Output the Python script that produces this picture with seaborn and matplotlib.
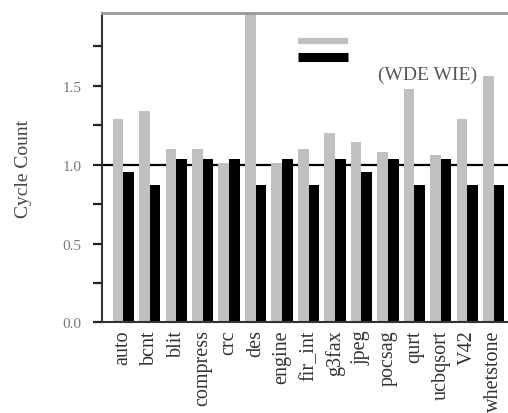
import numpy as np
import pandas as pd
import matplotlib
matplotlib.use("Agg")
import matplotlib.pyplot as plt
from matplotlib.lines import Line2D
from matplotlib.ticker import MultipleLocator, FormatStrFormatter
import seaborn as sns

benchmarks = ["auto", "bcnt", "blit", "compress", "crc", "des", "engine", "fir_int",
              "g3fax", "jpeg", "pocsag", "qurt", "ucbqsort", "V42", "whetstone"]
wde = [1.29, 1.34, 1.10, 1.10, 1.01, 2.00, 1.01, 1.10, 1.20, 1.14, 1.08, 1.48, 1.06, 1.29, 1.56]
wie = [0.95, 0.87, 1.035, 1.035, 1.035, 0.87, 1.035, 0.87, 1.035, 0.95, 1.035, 0.87, 1.035, 0.87, 0.87]
series = ["WDE", "WIE"]

df = pd.DataFrame({
    "benchmark": benchmarks * 2,
    "config": [series[0]] * len(wde) + [series[1]] * len(wie),
    "cycles": wde + wie,
})

sns.set_style("white")
plt.rcParams["font.family"] = ["Liberation Serif", "DejaVu Serif"]

fig = plt.figure(figsize=(5.08, 4.14), dpi=100)
ax = fig.add_axes([0.2008, 0.2186, 0.813, 0.7476])

# baseline at 1.0 sits behind the bars
ax.axhline(1.0, color="black", lw=1.6, zorder=0.5)

sns.barplot(data=df, x="benchmark", y="cycles", hue="config",
            palette=["#c0c0c0", "black"], width=0.8, gap=0, saturation=1,
            linewidth=0, legend=False, ax=ax, zorder=2)

ax.set_xlim(-0.8, len(benchmarks) - 0.2)
ax.set_ylim(0, 1.96)
ax.yaxis.set_major_locator(MultipleLocator(0.5))
ax.yaxis.set_minor_locator(MultipleLocator(0.25))
ax.yaxis.set_major_formatter(FormatStrFormatter("%.1f"))

ax.tick_params(axis="y", which="both", direction="out", length=6.5, width=1.6,
               color="#222222", labelcolor="#777777", labelsize=11, pad=8, left=True)
ax.tick_params(axis="x", length=0, labelsize=14.5, labelcolor="#333333", pad=5)
plt.setp(ax.get_xticklabels(), rotation=90)

ax.set_xlabel("")
ax.set_ylabel("Cycle Count", fontsize=14, color="#444444", labelpad=22)

for side in ["left", "bottom"]:
    ax.spines[side].set_color("#333333")
    ax.spines[side].set_linewidth(1.5)
ax.spines["top"].set_color("#999999")
ax.spines["top"].set_linewidth(2)
ax.spines["right"].set_visible(False)

handles = [Line2D([], [], color="#c0c0c0", lw=4.5, solid_capstyle="butt"),
           Line2D([], [], color="black", lw=6.5, solid_capstyle="butt")]
ax.legend(handles, ["", ""], loc="upper left", bbox_to_anchor=(0.457, 0.95),
          frameon=False, fontsize=10, handlelength=3.6, labelspacing=0.25,
          borderpad=0, handletextpad=0)

ax.text(0.789, 0.803, "(WDE WIE)", transform=ax.transAxes, ha="center", va="center",
        fontsize=14, color="#555555")

fig.savefig("out.png", dpi=100)
